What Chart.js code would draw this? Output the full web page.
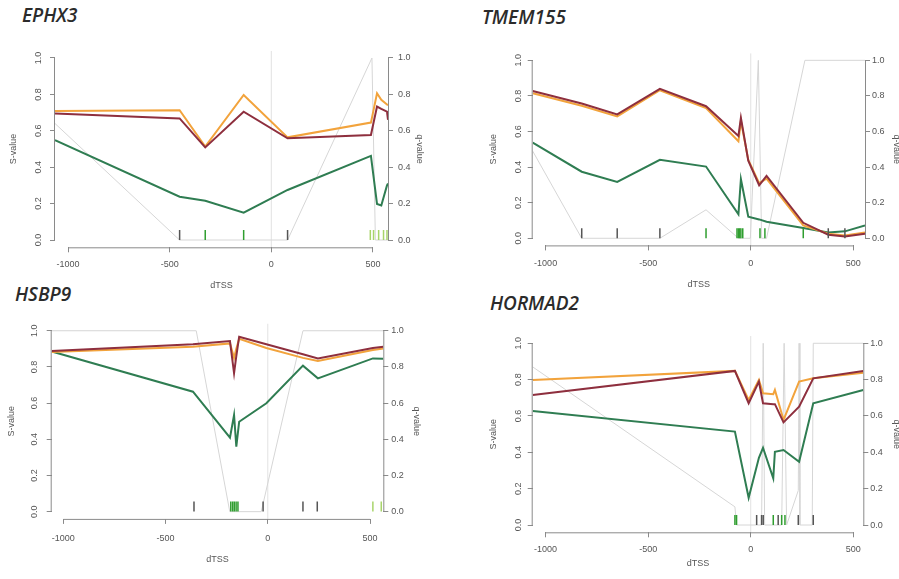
<!DOCTYPE html>
<html>
<head>
<meta charset="utf-8">
<script src="https://cdn.jsdelivr.net/npm/chart.js@4.4.1/dist/chart.umd.min.js"></script>
<style>
  body { margin: 0; background: #fff; }
  #wrap { position: relative; width: 899px; height: 579px; overflow: hidden; background: #fff; }
  #wrap canvas { position: absolute; }
  .gene {
    position: absolute;
    font-family: "Open Sans", sans-serif;
    font-style: italic;
    font-weight: 600;
    font-size: 19px;
    line-height: 1;
    color: #2b2b2b;
  }
</style>
</head>
<body>
<div id="wrap">
  <div class="gene" style="left:22px;top:6px">EPHX3</div>
  <div class="gene" style="left:482px;top:8px">TMEM155</div>
  <div class="gene" style="left:15px;top:285px">HSBP9</div>
  <div class="gene" style="left:490px;top:294px">HORMAD2</div>
  <canvas id="c1" width="417" height="251" style="left:8px;top:40px"></canvas>
  <canvas id="c2" width="414" height="250" style="left:488px;top:40px"></canvas>
  <canvas id="c3" width="416" height="255" style="left:6px;top:310px"></canvas>
  <canvas id="c4" width="414" height="249" style="left:488px;top:320px"></canvas>
</div>
<script>
/* ---------- data ---------- */

const xTicks = [-1000, -500, 0, 500];
const yTicks = [0, 0.2, 0.4, 0.6, 0.8, 1.0];
const refDtss = 0;

// EPHX3
const ephx3Dtss   = [-1064, -451, -325, -136, 80, 490, 520, 541, 569, 574];
const ephx3Orange = [0.709, 0.713, 0.513, 0.797, 0.564, 0.645, 0.806, 0.770, 0.745, 0.740];
const ephx3Red    = [0.695, 0.668, 0.509, 0.705, 0.559, 0.577, 0.733, 0.720, 0.705, 0.660];
const ephx3Green  = [0.549, 0.238, 0.216, 0.150, 0.275, 0.462, 0.198, 0.190, 0.300, 0.310];
const ephx3QDtss  = [-1064, -451, 80, 495, 512, 574];
const ephx3Q      = [0.64, 0, 0, 1.0, 0, 0];
const ephx3RugDark  = [-451, 80];
const ephx3RugGreen = [-325, -136];
const ephx3RugLight = [487, 503, 528, 552, 569];

// TMEM155
const tmemDtss   = [-1063, -824, -651, -443, -218, -60, -48, -12, 41, 77, 256, 378, 459, 557];
const tmemRed    = [0.828, 0.757, 0.696, 0.840, 0.742, 0.575, 0.677, 0.436, 0.298, 0.351, 0.087, 0.020, 0.010, 0.026];
const tmemOrange = [0.815, 0.745, 0.685, 0.832, 0.732, 0.545, 0.660, 0.440, 0.310, 0.335, 0.072, 0.026, 0.016, 0.032];
const tmemGreen  = [0.537, 0.374, 0.317, 0.441, 0.403, 0.135, 0.332, 0.121, 0.106, 0.093, 0.058, 0.033, 0.039, 0.072];
const tmemQDtss  = [-1063, -824, -443, -218, -60, -2, 37, 53, 77, 264, 557];
const tmemQ      = [0.49, 0, 0, 0.16, 0, 0, 1, 0, 0, 1, 1];
const tmemRugDark  = [-824, -651, -443, 378, 459];
const tmemRugGreen = [-218, -67, -60, -54, -48, -39, 45, 69, 256];
const tmemRugLight = [];

// HSBP9
const hsbpDtss   = [-1057, -366, -185, -165, -154, -140, -7, 172, 245, 514, 565];
const hsbpRed    = [0.888, 0.925, 0.943, 0.765, 0.860, 0.967, 0.925, 0.870, 0.847, 0.905, 0.912];
const hsbpOrange = [0.882, 0.912, 0.930, 0.850, 0.900, 0.955, 0.905, 0.850, 0.833, 0.893, 0.902];
const hsbpGreen  = [0.885, 0.663, 0.409, 0.534, 0.359, 0.497, 0.599, 0.807, 0.737, 0.847, 0.845];
const hsbpQDtss  = [-1057, -350, -186, -32, 172, 565];
const hsbpQ      = [1, 1, 0, 0, 1, 1];
const hsbpRugDark  = [-361, -23, 172, 242];
const hsbpRugGreen = [-181, -172, -164, -155, -146];
const hsbpRugLight = [514, 555];

// HORMAD2
const hormDtss   = [-1063, -77, -10, 40, 60, 110, 118, 160, 236, 305, 549];
const hormOrange = [0.798, 0.848, 0.688, 0.798, 0.725, 0.720, 0.743, 0.578, 0.789, 0.807, 0.838];
const hormRed    = [0.715, 0.848, 0.670, 0.789, 0.670, 0.665, 0.665, 0.565, 0.651, 0.807, 0.847];
const hormGreen  = [0.627, 0.514, 0.150, 0.370, 0.425, 0.257, 0.403, 0.413, 0.348, 0.670, 0.743];
const hormQDtss  = [-1063, -77, -69, 53, 61, 68, 151, 163, 175, 232, 236, 240, 300, 305, 549];
const hormQ      = [0.87, 0.10, 0, 0, 1, 0, 0, 1, 0, 0.19, 1, 0, 0, 1, 1];
const hormRugDark  = [29, 53, 61, 134, 232, 305];
const hormRugGreen = [-77, -69, 110, 151, 167];
const hormRugLight = [];

/* ---------- styling ---------- */

const ORANGE = "#f2a33c";
const RED = "#8e2f3e";
const GREEN = "#2f7d52";
const QGRAY = "#d6d6d6";
const REFGRAY = "#e2e2e2";
const RUG_DARK = "#555555";
const RUG_GREEN = "#2f9e2f";
const RUG_LIGHT = "#a8d46a";
const AXIS = "#8a8a8a";
const TEXT = "#555555";
const Y_MIN = -0.04;
const Y_MAX = 1.04;
const RUG_Y = 0.028;
const FONT = { family: "'Liberation Sans', Arial, sans-serif", size: 9 };

Chart.defaults.font.family = FONT.family;
Chart.defaults.color = TEXT;

const pts = (xs, ys) => xs.map((x, i) => ({ x: x, y: ys[i] }));

const line = (xs, ys, color, width) => ({
    data: pts(xs, ys),
    borderColor: color,
    borderWidth: width,
    pointRadius: 0,
    tension: 0,
    fill: false
});

const rug = (xs, color) => ({
    data: xs.map(x => ({ x: x, y: RUG_Y })),
    showLine: false,
    pointStyle: "line",
    pointRotation: 90,
    pointRadius: 5,
    pointBorderWidth: 1.5,
    pointBorderColor: color,
    borderColor: color
});

// R-style axes: lines only from first to last tick, left labels parallel to the axis
const rAxes = {
    id: "rAxes",
    afterDraw(chart, args, opts) {
        const ctx = chart.ctx;
        ctx.save();
        ctx.strokeStyle = AXIS;
        ctx.lineWidth = 1;
        Object.values(chart.scales).forEach(s => {
            const a = s.getPixelForValue(s.ticks[0].value);
            const b = s.getPixelForValue(s.ticks[s.ticks.length - 1].value);
            ctx.beginPath();
            if (s.isHorizontal()) {
                ctx.moveTo(a, s.top + 0.5);
                ctx.lineTo(b, s.top + 0.5);
            } else if (s.position === "left") {
                ctx.moveTo(s.right - 0.5, a);
                ctx.lineTo(s.right - 0.5, b);
            } else {
                ctx.moveTo(s.left + 0.5, a);
                ctx.lineTo(s.left + 0.5, b);
            }
            ctx.stroke();
        });

        const y = chart.scales.y;
        ctx.fillStyle = TEXT;
        ctx.font = FONT.size + "px " + FONT.family;
        ctx.textAlign = "center";
        ctx.textBaseline = "middle";
        y.ticks.forEach(t => {
            ctx.save();
            ctx.translate(y.right - opts.labelOffset, y.getPixelForValue(t.value));
            ctx.rotate(-Math.PI / 2);
            ctx.fillText(t.value.toFixed(1), 0, 0);
            ctx.restore();
        });
        ctx.restore();
    }
};

const tickGrid = { drawOnChartArea: false, drawTicks: true, tickLength: 5, color: AXIS };

function buildPanel(p, d) {

    const datasets = [
        rug(d.rugLight, RUG_LIGHT),
        rug(d.rugGreen, RUG_GREEN),
        rug(d.rugDark, RUG_DARK),
        line(d.x, d.red, RED, 2),
        line(d.x, d.orange, ORANGE, 2),
        line(d.x, d.green, GREEN, 2),
        Object.assign(line(d.qx, d.q, QGRAY, 1), { yAxisID: "yq" }),
        line([refDtss, refDtss], [Y_MIN, Y_MAX], REFGRAY, 1)
    ];

    new Chart(document.getElementById(p.id), {
        type: "line",
        data: { datasets: datasets },
        plugins: [rAxes],
        options: {
            responsive: false,
            animation: false,
            devicePixelRatio: 1,
            layout: { padding: { top: p.padTop, left: 0, right: 0, bottom: 0 } },
            plugins: {
                legend: { display: false },
                title: { display: false },
                tooltip: { enabled: false },
                rAxes: { labelOffset: p.yLabelOff }
            },
            scales: {
                x: {
                    type: "linear",
                    position: "bottom",
                    min: p.xMin,
                    max: p.xMax,
                    grid: tickGrid,
                    border: { display: false },
                    afterBuildTicks: s => { s.ticks = xTicks.map(v => ({ value: v })); },
                    afterFit: s => { s.height = p.bottomH; },
                    ticks: {
                        font: FONT,
                        color: TEXT,
                        autoSkip: false,
                        maxRotation: 0,
                        padding: p.xLabelPad,
                        callback: v => String(v)
                    },
                    title: { display: true, text: "dTSS", font: FONT, color: TEXT, padding: 0 }
                },
                y: {
                    type: "linear",
                    position: "left",
                    min: Y_MIN,
                    max: Y_MAX,
                    grid: tickGrid,
                    border: { display: false },
                    afterBuildTicks: s => { s.ticks = yTicks.map(v => ({ value: v })); },
                    afterFit: s => { s.width = p.leftW; },
                    ticks: { display: false },
                    title: { display: true, text: "S-value", font: FONT, color: TEXT, padding: 0 }
                },
                yq: {
                    type: "linear",
                    position: "right",
                    min: Y_MIN,
                    max: Y_MAX,
                    grid: tickGrid,
                    border: { display: false },
                    afterBuildTicks: s => { s.ticks = yTicks.map(v => ({ value: v })); },
                    afterFit: s => { s.width = p.rightW; },
                    ticks: {
                        font: FONT,
                        color: TEXT,
                        padding: p.qLabelPad,
                        callback: v => v.toFixed(1)
                    },
                    title: { display: true, text: "q-value", font: FONT, color: TEXT, padding: 0 }
                }
            }
        }
    });
}

buildPanel(
    { id: "c1", padTop: 10.7, leftW: 47, rightW: 37, bottomH: 43.7, xMin: -1064, xMax: 574, yLabelOff: 16, xLabelPad: 7.3, qLabelPad: 5 },
    { x: ephx3Dtss, orange: ephx3Orange, red: ephx3Red, green: ephx3Green, qx: ephx3QDtss, q: ephx3Q,
      rugDark: ephx3RugDark, rugGreen: ephx3RugGreen, rugLight: ephx3RugLight }
);

buildPanel(
    { id: "c2", padTop: 13.2, leftW: 44.7, rightW: 37, bottomH: 44.6, xMin: -1063, xMax: 557, yLabelOff: 14.5, xLabelPad: 7.5, qLabelPad: 2 },
    { x: tmemDtss, orange: tmemOrange, red: tmemRed, green: tmemGreen, qx: tmemQDtss, q: tmemQ,
      rugDark: tmemRugDark, rugGreen: tmemRugGreen, rugLight: tmemRugLight }
);

buildPanel(
    { id: "c3", padTop: 13.5, leftW: 45.7, rightW: 38.7, bottomH: 46.1, xMin: -1057, xMax: 565, yLabelOff: 17, xLabelPad: 9, qLabelPad: 3 },
    { x: hsbpDtss, orange: hsbpOrange, red: hsbpRed, green: hsbpGreen, qx: hsbpQDtss, q: hsbpQ,
      rugDark: hsbpRugDark, rugGreen: hsbpRugGreen, rugLight: hsbpRugLight }
);

buildPanel(
    { id: "c4", padTop: 16, leftW: 44.7, rightW: 38.7, bottomH: 36.7, xMin: -1063, xMax: 549, yLabelOff: 14.5, xLabelPad: 6.6, qLabelPad: 2 },
    { x: hormDtss, orange: hormOrange, red: hormRed, green: hormGreen, qx: hormQDtss, q: hormQ,
      rugDark: hormRugDark, rugGreen: hormRugGreen, rugLight: hormRugLight }
);
</script>
</body>
</html>
